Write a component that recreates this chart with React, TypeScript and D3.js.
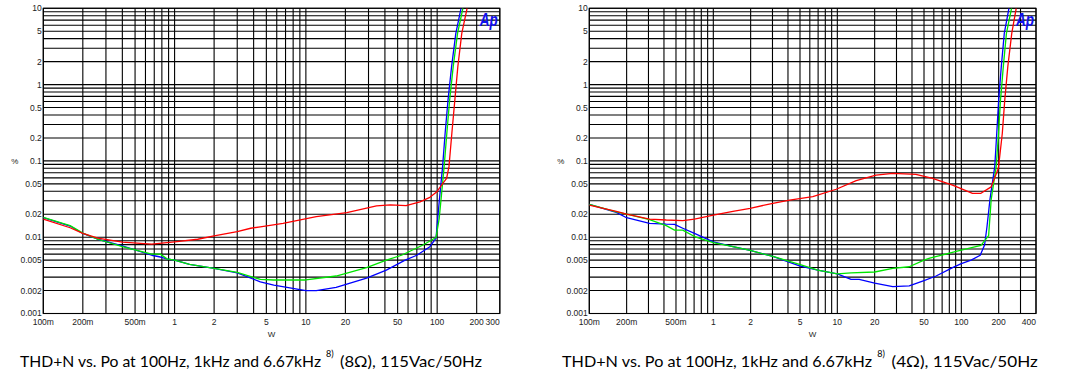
import React from "react";
import * as d3 from "d3";

type Pt = [number, number];

// y axis (THD+N, %)
const yTickValues = [10, 5, 2, 1, 0.5, 0.2, 0.1, 0.05, 0.02, 0.01, 0.005, 0.002, 0.001];
const yTickLabels = ["10", "5", "2", "1", "0.5", "0.2", "0.1", "0.05", "0.02", "0.01", "0.005", "0.002", "0.001"];

// x axis (output power, W)
const leftXTickValues = [0.1, 0.2, 0.5, 1, 2, 5, 10, 20, 50, 100, 200, 300];
const leftXTickLabels = ["100m", "200m", "500m", "1", "2", "5", "10", "20", "50", "100", "200", "300"];
const rightXTickValues = [0.1, 0.2, 0.5, 1, 2, 5, 10, 20, 50, 100, 200, 400];
const rightXTickLabels = ["100m", "200m", "500m", "1", "2", "5", "10", "20", "50", "100", "200", "400"];

// 8 ohm  [W, %]
const leftRed: Pt[] = [
  [0.1, 0.0172], [0.16, 0.0133], [0.2, 0.0112], [0.26, 0.0097], [0.4, 0.0086], [0.67, 0.0081],
  [1, 0.0087], [1.5, 0.0094], [2, 0.0104], [3, 0.0118], [3.8, 0.0131], [4.5, 0.0137], [6.7, 0.0152],
  [12, 0.0186], [20.5, 0.021], [34.5, 0.0257], [44, 0.0265], [58, 0.026], [74, 0.029], [88, 0.0333],
  [99, 0.039], [108, 0.048], [118, 0.059], [123, 0.084], [129.4, 0.23], [136.4, 0.63], [143.7, 1.72],
  [154, 4.7], [169, 10],
];
const leftGreen: Pt[] = [
  [0.1, 0.0182], [0.16, 0.0142], [0.2, 0.0113], [0.26, 0.0094], [0.4, 0.0075], [0.67, 0.006],
  [0.78, 0.006], [0.875, 0.0052], [1, 0.005], [1.3, 0.0044], [2, 0.0039], [3, 0.00345], [4.5, 0.0028],
  [5.7, 0.00275], [10, 0.00275], [17, 0.0031], [29, 0.004], [41, 0.005], [53.5, 0.0058], [78, 0.0079],
  [98, 0.0099], [103.7, 0.0177], [107, 0.031], [113, 0.084], [118.5, 0.23], [124.5, 0.63],
  [132.5, 1.72], [143, 4.7], [157, 10],
];
const leftBlue: Pt[] = [
  [0.1, 0.018], [0.16, 0.014], [0.2, 0.0112], [0.26, 0.0094], [0.4, 0.0077], [0.67, 0.0058],
  [0.78, 0.0055], [0.875, 0.0052], [1, 0.005], [1.3, 0.0044], [2, 0.0039], [3, 0.0034], [4.5, 0.0026],
  [5.7, 0.00236], [10, 0.002], [12, 0.002], [17, 0.0022], [29, 0.0029], [41, 0.0037], [57, 0.005],
  [70, 0.0058], [88, 0.0075], [98, 0.0097], [101, 0.0177], [104, 0.031], [110, 0.084], [115, 0.23],
  [121, 0.63], [128.8, 1.72], [138.7, 4.7], [152, 10],
];

// 4 ohm  [W, %]
const rightRed: Pt[] = [
  [0.1, 0.0263], [0.165, 0.0218], [0.2, 0.02], [0.306, 0.0173], [0.417, 0.0168], [0.567, 0.0165],
  [0.705, 0.0172], [1, 0.0195], [1.44, 0.0218], [1.98, 0.0239], [3.02, 0.0278], [4.12, 0.0307],
  [6.34, 0.034], [9.8, 0.0425], [14.2, 0.055], [20.5, 0.065], [28, 0.0687], [43, 0.0664],
  [58.6, 0.059], [85, 0.048], [123, 0.0376], [144, 0.0376], [174, 0.0457], [199, 0.08], [214, 0.23],
  [224, 0.63], [237, 1.72], [255, 4.7], [277, 10],
];
const rightGreen: Pt[] = [
  [0.1, 0.027], [0.165, 0.0215], [0.2, 0.02], [0.306, 0.017], [0.417, 0.0142], [0.487, 0.0124],
  [0.567, 0.0124], [0.705, 0.0102], [1, 0.0085], [1.44, 0.0075], [1.98, 0.0067], [3.02, 0.0056],
  [4.95, 0.0044], [6.95, 0.0037], [10, 0.0033], [12.9, 0.0034], [20, 0.0035], [28, 0.0039],
  [38, 0.0041], [50, 0.005], [55.6, 0.0053], [90.8, 0.0065], [144, 0.0078], [166, 0.0105],
  [174, 0.031], [191, 0.084], [199.5, 0.23], [207, 0.63], [218, 1.72], [231, 4.7], [254, 10],
];
const rightBlue: Pt[] = [
  [0.1, 0.027], [0.165, 0.0212], [0.2, 0.018], [0.306, 0.0152], [0.417, 0.0148], [0.487, 0.0147],
  [0.567, 0.0131], [0.705, 0.0112], [1, 0.0087], [1.44, 0.0075], [1.98, 0.0067], [3.02, 0.0056],
  [4.95, 0.0042], [6.95, 0.0037], [10, 0.0033], [12.9, 0.0028], [15, 0.0028], [20, 0.0025],
  [28, 0.00225], [38, 0.0023], [50, 0.0027], [62.6, 0.0031], [85, 0.004], [100, 0.0045],
  [120, 0.005], [142, 0.0058], [154, 0.0079], [161, 0.0137], [170, 0.031], [186, 0.084],
  [193, 0.23], [200, 0.63], [210, 1.72], [222, 4.7], [242, 10],
];

const BLUE = "#0000ff";
const GREEN = "#00e600";
const RED = "#ff0000";

const tickFont = "'Liberation Sans Narrow', 'Arial Narrow', 'Liberation Sans', sans-serif";
const captionFont = "Lato, 'Open Sans', sans-serif";

// 1..9 per decade, inside [min, max]
function gridValues(min: number, max: number) {
  const out: number[] = [];
  for (let e = -3; e <= 3; e++) {
    for (let k = 1; k <= 9; k++) {
      const v = k * Math.pow(10, e);
      if (v >= min * 0.999 && v <= max * 1.001) out.push(v);
    }
  }
  return out;
}

type ChartProps = {
  id: string;
  x0: number;
  x1: number;
  xMax: number;
  xTicks: number[];
  xLabels: string[];
  red: Pt[];
  green: Pt[];
  blue: Pt[];
  load: string;
  captionX: number;
  captionScale: number;
};

const Chart = ({ id, x0, x1, xMax, xTicks, xLabels, red, green, blue, load, captionX, captionScale }: ChartProps) => {
  const top = 8.3;
  const bottom = 313.5;
  const x = d3.scaleLog().domain([0.1, xMax]).range([x0, x1]);
  const y = d3.scaleLog().domain([0.001, 10]).range([bottom, top]);
  const line = d3
    .line<Pt>()
    .x((d) => x(d[0]))
    .y((d) => y(d[1]));

  const vGrid = gridValues(0.1, xMax);
  const hGrid = gridValues(0.001, 10);

  // caption pieces: main text, superscript note, tail
  const s = captionScale;
  const mainW = 301 * s;
  const supX = captionX + 306 * s;
  const tailX = captionX + 320 * s;
  const tailW = 142 * s;

  return (
    <g>
      <defs>
        <clipPath id={id}>
          <rect x={x0} y={top} width={x1 - x0} height={bottom - top} />
        </clipPath>
      </defs>
      <rect x={x0} y={top} width={x1 - x0} height={bottom - top} fill="#fff" />
      {vGrid.map((v, i) => (
        <line key={"v" + i} x1={x(v)} x2={x(v)} y1={top} y2={bottom} stroke="#000" strokeWidth={1.1} />
      ))}
      {hGrid.map((v, i) => (
        <line key={"h" + i} x1={x0} x2={x1} y1={y(v)} y2={y(v)} stroke="#000" strokeWidth={1.1} />
      ))}
      <rect x={x0} y={top} width={x1 - x0} height={bottom - top} fill="none" stroke="#000" strokeWidth={1.1} />

      <g clipPath={`url(#${id})`} fill="none" strokeWidth={1.3} strokeLinejoin="round">
        <path d={line(blue) || ""} stroke={BLUE} />
        <path d={line(green) || ""} stroke={GREEN} />
        <path d={line(red) || ""} stroke={RED} />
      </g>

      {/* y tick labels */}
      {yTickValues.map((v, i) => (
        <text
          key={"yl" + i}
          x={x0 - 1.5}
          y={y(v)}
          dy="0.35em"
          textAnchor="end"
          fontFamily={tickFont}
          fontSize={8.5}
          fill="#222"
        >
          {yTickLabels[i]}
        </text>
      ))}
      {/* x tick labels */}
      {xTicks.map((v, i) => {
        const last = i === xTicks.length - 1;
        return (
          <text
            key={"xl" + i}
            x={last ? x1 : x(v)}
            y={325.3}
            textAnchor={last ? "end" : "middle"}
            fontFamily={tickFont}
            fontSize={8.5}
            fill="#222"
          >
            {xLabels[i]}
          </text>
        );
      })}
      <text x={x0 - 32} y={164} fontFamily={tickFont} fontSize={8} fill="#222">
        %
      </text>
      <text x={(x0 + x1) / 2} y={337} textAnchor="middle" fontFamily={tickFont} fontSize={8} fill="#222">
        W
      </text>

      {/* Ap logo */}
      <text
        x={x1 - 2}
        y={25.5}
        textAnchor="end"
        fontFamily="'Liberation Sans', Arial, sans-serif"
        fontStyle="italic"
        fontWeight="bold"
        fontSize={18}
        fill="#1010ee"
        textLength={18}
        lengthAdjust="spacingAndGlyphs"
      >
        Ap
      </text>

      {/* caption */}
      <text
        x={captionX}
        y={367.3}
        fontFamily={captionFont}
        fontSize={15.8}
        fill="#000"
        textLength={mainW}
        lengthAdjust="spacingAndGlyphs"
      >
        THD+N vs. Po at 100Hz, 1kHz and 6.67kHz
      </text>
      <text x={supX} y={356.5} fontFamily={captionFont} fontSize={9} fill="#000">
        8)
      </text>
      <text
        x={tailX}
        y={367.3}
        fontFamily={captionFont}
        fontSize={15.8}
        fill="#000"
        textLength={tailW}
        lengthAdjust="spacingAndGlyphs"
      >
        {`(${load}), 115Vac/50Hz`}
      </text>
    </g>
  );
};

export default function App() {
  return (
    <div style={{ position: "absolute", left: 0, top: 0 }}>
      <svg width={1080} height={388} style={{ display: "block", background: "#fff" }}>
        <Chart
          id="clip8"
          x0={43.3}
          x1={499.8}
          xMax={300}
          xTicks={leftXTickValues}
          xLabels={leftXTickLabels}
          red={leftRed}
          green={leftGreen}
          blue={leftBlue}
          load="8Ω"
          captionX={20}
          captionScale={1}
        />
        <Chart
          id="clip4"
          x0={589.3}
          x1={1036}
          xMax={400}
          xTicks={rightXTickValues}
          xLabels={rightXTickLabels}
          red={rightRed}
          green={rightGreen}
          blue={rightBlue}
          load="4Ω"
          captionX={562}
          captionScale={1.03}
        />
      </svg>
    </div>
  );
}
